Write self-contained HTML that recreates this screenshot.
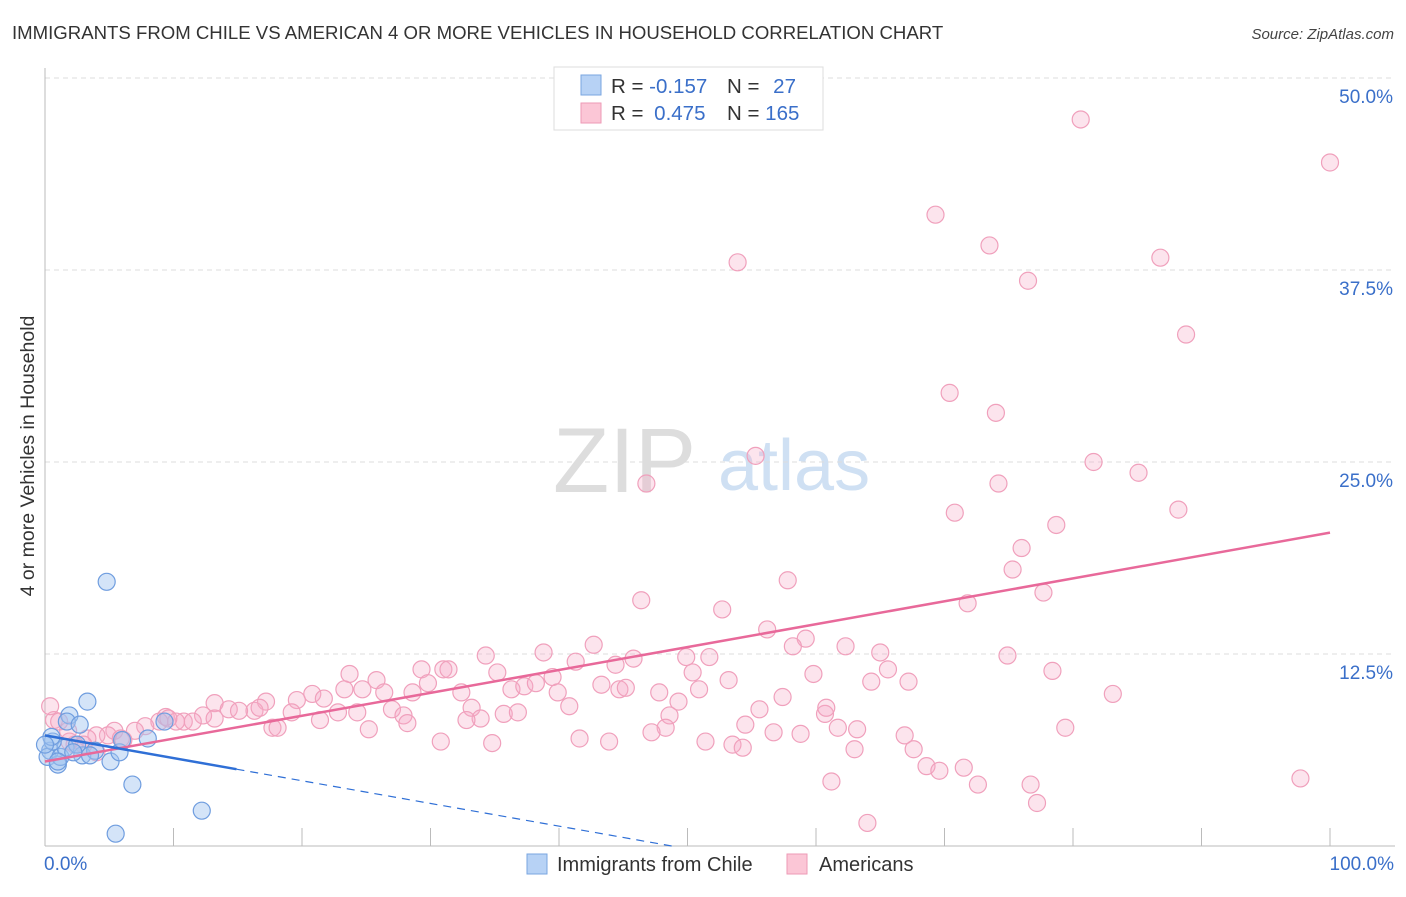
<!DOCTYPE html>
<html><head><meta charset="utf-8"><style>
body{margin:0;background:#fff;font-family:"Liberation Sans",sans-serif;}
svg text{font-family:"Liberation Sans",sans-serif;}
</style></head><body>
<svg id="chart" width="1406" height="892" xmlns="http://www.w3.org/2000/svg">
<text x="12" y="39" font-size="18.6" fill="#333">IMMIGRANTS FROM CHILE VS AMERICAN 4 OR MORE VEHICLES IN HOUSEHOLD CORRELATION CHART</text>
<text x="1394" y="39" font-size="15" fill="#444" text-anchor="end" font-style="italic">Source: ZipAtlas.com</text>
<g>
<text x="553" y="492" font-size="92" fill="#ddd" font-family="Liberation Serif,serif">ZIP</text>
<text x="718" y="490" font-size="72" fill="#cfe0f3">atlas</text>
</g>
<g id="grid"></g>
<g id="yticks"></g>
<g id="xaxis"></g>
<g id="pink"></g>
<g id="blue"></g>
<g id="lines"></g>
<text transform="translate(34,456) rotate(-90)" font-size="19.5" fill="#333" text-anchor="middle">4 or more Vehicles in Household</text>
<g>
<rect x="554" y="67" width="269" height="63" fill="#fff" stroke="#ddd"/>
<rect x="581" y="75" width="20" height="20" fill="#b7d2f5" stroke="#7aa6e0"/>
<rect x="581" y="103" width="20" height="20" fill="#fbc6d6" stroke="#ee9ab6"/>
<text x="611" y="93" font-size="20.5" fill="#333">R = <tspan fill="#3a6fc9">-0.157</tspan></text>
<text x="727" y="93" font-size="20.5" fill="#333">N = <tspan fill="#3a6fc9" dx="8">27</tspan></text>
<text x="611" y="120" font-size="20.5" fill="#333">R = <tspan fill="#3a6fc9" dx="5">0.475</tspan></text>
<text x="727" y="120" font-size="20.5" fill="#333">N = <tspan fill="#3a6fc9">165</tspan></text>
</g>
<g>
<rect x="527" y="854" width="20" height="20" fill="#b7d2f5" stroke="#7aa6e0"/>
<text x="557" y="871" font-size="20" fill="#333">Immigrants from Chile</text>
<rect x="787" y="854" width="20" height="20" fill="#fbc6d6" stroke="#ee9ab6"/>
<text x="819" y="871" font-size="20" fill="#333">Americans</text>
</g>
</svg>
<script>
const yTicks=[12.5,25,37.5,50];
const yTickLabels=["12.5%","25.0%","37.5%","50.0%"];
const xTickLabels=["0.0%","100.0%"];
const blueX=[3.3,1.9,1.7,2.7,0.4,0.2,1.0,1.2,2.9,3.9,5.1,5.8,6.8,6.0,8.0,9.3,12.2,5.5,4.8,1.6,0.6,2.5,2.2,3.5,0.5,1.0,0.0];
const blueY=[9.4,8.5,8.1,7.9,6.2,5.8,5.3,5.8,5.9,6.2,5.5,6.1,4.0,6.9,7.0,8.1,2.3,0.8,17.2,6.4,6.8,6.6,6.1,5.9,7.1,5.5,6.6];
const pinkX=[80.6,100,69.3,73.5,86.8,53.9,76.5,88.8,70.4,74.0,55.3,81.6,85.1,46.8,74.2,70.8,88.2,78.7,76.0,75.3,57.8,77.7,46.4,71.8,52.7,56.2,59.2,42.7,58.2,62.3,65.0,74.9,34.3,38.8,45.8,41.3,44.4,65.6,78.4,23.7,35.2,39.5,25.8,29.3,31.0,31.4,50.4,53.2,59.8,29.8,43.3,49.9,51.7,64.3,67.2,23.3,24.7,28.6,32.4,36.3,37.3,38.2,39.9,44.7,45.2,47.8,50.9,57.4,83.1,20.8,21.7,26.4,49.3,19.6,17.2,16.3,19.2,13.2,16.7,14.3,15.1,12.3,9.4,10.8,10.2,11.5,13.2,8.9,7.8,9.6,7.0,5.4,4.9,4.0,3.3,2.3,1.9,0.7,0.4,1.1,1.8,5.9,6.1,4.0,3.0,17.7,18.1,21.4,24.3,22.8,27.0,27.9,28.2,33.2,33.9,32.8,35.7,36.8,40.8,48.6,48.3,47.2,54.5,60.7,60.8,55.6,61.7,63.2,66.9,56.7,58.8,25.2,30.8,34.8,41.6,43.9,51.4,53.5,54.3,63.0,67.6,68.6,69.6,71.5,72.6,76.7,77.2,79.4,97.7,61.2,64.0];
const pinkY=[47.3,44.5,41.1,39.1,38.3,38.0,36.8,33.3,29.5,28.2,25.4,25.0,24.3,23.6,23.6,21.7,21.9,20.9,19.4,18.0,17.3,16.5,16.0,15.8,15.4,14.1,13.5,13.1,13.0,13.0,12.6,12.4,12.4,12.6,12.2,12.0,11.8,11.5,11.4,11.2,11.3,11.0,10.8,11.5,11.5,11.5,11.3,10.8,11.2,10.6,10.5,12.3,12.3,10.7,10.7,10.2,10.2,10.0,10.0,10.2,10.4,10.6,10.0,10.2,10.3,10.0,10.2,9.7,9.9,9.9,9.6,10.0,9.4,9.5,9.4,8.8,8.7,9.3,9.0,8.9,8.8,8.5,8.4,8.1,8.1,8.1,8.3,8.1,7.8,8.3,7.5,7.5,7.2,7.2,7.0,6.6,6.8,8.2,9.1,8.1,7.5,7.0,6.9,6.1,6.6,7.7,7.7,8.2,8.7,8.7,8.9,8.5,8.0,9.0,8.3,8.2,8.6,8.7,9.1,8.5,7.7,7.4,7.9,8.6,9.0,8.9,7.7,7.6,7.2,7.4,7.3,7.6,6.8,6.7,7.0,6.8,6.8,6.6,6.4,6.3,6.3,5.2,4.9,5.1,4.0,4.0,2.8,7.7,4.4,4.2,1.5];
const pinkTrend=[5.5,20.4];
const blueTrend=[7.2,5.0];
const blueSolidEnd=14.9;
const NS="http://www.w3.org/2000/svg";
const X0=45,X1=1330,Y0=846,PPY=15.36;
function sx(v){return X0+(X1-X0)*v/100;}
function sy(v){return Y0-v*PPY;}
function mk(tag,attrs,parent){const e=document.createElementNS(NS,tag);for(const k in attrs)e.setAttribute(k,attrs[k]);parent.appendChild(e);return e;}
const grid=document.getElementById('grid'),yt=document.getElementById('yticks'),xa=document.getElementById('xaxis');
yTicks.forEach((t,i)=>{
 const l=mk('line',{x1:45,x2:1395,y1:sy(t),y2:sy(t),stroke:'#ddd','stroke-dasharray':'5,4'},grid);
 
 
 const tx=mk('text',{x:1393,y:sy(t)+25,'font-size':19,fill:'#3a6fc9','text-anchor':'end'},yt);
 tx.textContent=yTickLabels[i];
 
 
});
mk('line',{x1:45,x2:45,y1:68,y2:846,stroke:'#bbb'},xa);
mk('line',{x1:45,x2:1395,y1:846,y2:846,stroke:'#bbb'},xa);
for(let i=1;i<=10;i++){const l=mk('line',{x1:sx(i*10),x2:sx(i*10),y1:828,y2:846,stroke:'#bbb'},xa);
 
 }
const xl0=mk('text',{x:44,y:870,'font-size':19,fill:'#3a6fc9'},xa);xl0.textContent=xTickLabels[0];


const xl1=mk('text',{x:1394,y:870,'font-size':19,fill:'#3a6fc9','text-anchor':'end'},xa);xl1.textContent=xTickLabels[1];


const pg=document.getElementById('pink');
pinkX.forEach((x,i)=>{const c=mk('circle',{cx:sx(x),cy:sy(pinkY[i]),r:8.5,fill:'rgba(246,170,198,0.32)',stroke:'#f0a0bc','stroke-width':1.2},pg);
 
 });
const bg=document.getElementById('blue');
blueX.forEach((x,i)=>{const c=mk('circle',{cx:sx(x),cy:sy(blueY[i]),r:8.5,fill:'rgba(160,196,240,0.45)',stroke:'#6f9ddf','stroke-width':1.2},bg);
 
 });
const lg=document.getElementById('lines');
const pl=mk('line',{x1:sx(0),y1:sy(pinkTrend[0]),x2:sx(100),y2:sy(pinkTrend[1]),stroke:'#e8699a','stroke-width':2.5},lg);


const slope=(blueTrend[1]-blueTrend[0])/blueSolidEnd;
const bl=mk('line',{x1:sx(0),y1:sy(blueTrend[0]),x2:sx(blueSolidEnd),y2:sy(blueTrend[1]),stroke:'#2f6fd6','stroke-width':2.5},lg);


const xz=-blueTrend[0]/slope;
const bd=mk('line',{x1:sx(blueSolidEnd),y1:sy(blueTrend[1]),x2:sx(xz),y2:sy(0),stroke:'#2f6fd6','stroke-width':1.2,'stroke-dasharray':'8,6'},lg);


</script>
</body></html>
